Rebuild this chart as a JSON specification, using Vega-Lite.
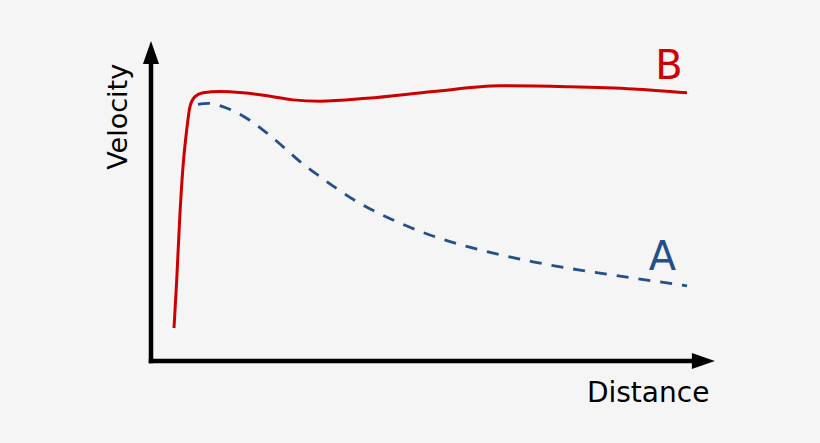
{
  "$schema": "https://vega.github.io/schema/vega-lite/v6.json",
  "width": 564,
  "height": 320,
  "autosize": {"type": "none"},
  "padding": {"left": 151, "top": 41, "right": 105, "bottom": 82},
  "background": "#f5f5f5",
  "config": {"view": {"stroke": null}},
  "datasets": {
    "curves": [
      {"series": "B", "distance": 4.08, "velocity": 10.3},
      {"series": "B", "distance": 4.56, "velocity": 25.3},
      {"series": "B", "distance": 5.14, "velocity": 46.25},
      {"series": "B", "distance": 5.73, "velocity": 61.9},
      {"series": "B", "distance": 6.33, "velocity": 72.2},
      {"series": "B", "distance": 6.91, "velocity": 79.5},
      {"series": "B", "distance": 7.8, "velocity": 82.6},
      {"series": "B", "distance": 9.22, "velocity": 83.8},
      {"series": "B", "distance": 12.23, "velocity": 84.2},
      {"series": "B", "distance": 16.31, "velocity": 83.8},
      {"series": "B", "distance": 20.57, "velocity": 82.9},
      {"series": "B", "distance": 25.18, "velocity": 81.6},
      {"series": "B", "distance": 29.96, "velocity": 81.2},
      {"series": "B", "distance": 38.3, "velocity": 82.1},
      {"series": "B", "distance": 50.0, "velocity": 84.2},
      {"series": "B", "distance": 61.88, "velocity": 86.0},
      {"series": "B", "distance": 73.76, "velocity": 85.7},
      {"series": "B", "distance": 85.46, "velocity": 85.0},
      {"series": "B", "distance": 95.04, "velocity": 83.8},
      {"series": "A", "distance": 8.33, "velocity": 80.2},
      {"series": "A", "distance": 10.11, "velocity": 80.5},
      {"series": "A", "distance": 13.48, "velocity": 79.0},
      {"series": "A", "distance": 17.02, "velocity": 75.8},
      {"series": "A", "distance": 20.57, "velocity": 71.2},
      {"series": "A", "distance": 23.4, "velocity": 67.0},
      {"series": "A", "distance": 26.42, "velocity": 62.3},
      {"series": "A", "distance": 29.96, "velocity": 57.6},
      {"series": "A", "distance": 36.52, "velocity": 49.8},
      {"series": "A", "distance": 43.62, "velocity": 43.5},
      {"series": "A", "distance": 51.24, "velocity": 38.3},
      {"series": "A", "distance": 59.57, "velocity": 34.2},
      {"series": "A", "distance": 67.73, "velocity": 31.0},
      {"series": "A", "distance": 76.06, "velocity": 28.4},
      {"series": "A", "distance": 84.4, "velocity": 26.2},
      {"series": "A", "distance": 95.04, "velocity": 23.5}
    ],
    "axes": [
      {"axis": "x", "x": 0, "y": 0, "x2": 96.2, "y2": 0, "dir": "right"},
      {"axis": "y", "x": 0, "y": 0, "x2": 0, "y2": 93.2, "dir": "up"}
    ],
    "heads": [
      {"axis": "x", "x": 95.9, "y": 0},
      {"axis": "y", "x": 0, "y": 92.8}
    ],
    "labels": [
      {"text": "B", "x": 91.84, "y": 88.0},
      {"text": "A", "x": 90.69, "y": 28.4}
    ],
    "titles": [
      {"text": "Distance", "x": 99.0, "y": -12.9, "kind": "x"},
      {"text": "Velocity", "x": -4.3, "y": 76.3, "kind": "y"}
    ]
  },
  "layer": [
    {
      "data": {"name": "axes"},
      "mark": {"type": "rule", "color": "#000000", "strokeWidth": 4.5, "strokeCap": "square"},
      "encoding": {
        "x": {"field": "x", "type": "quantitative", "scale": {"domain": [0, 100]}, "axis": null},
        "y": {"field": "y", "type": "quantitative", "scale": {"domain": [0, 100]}, "axis": null},
        "x2": {"field": "x2"},
        "y2": {"field": "y2"}
      }
    },
    {
      "data": {"name": "heads"},
      "transform": [{"filter": "datum.axis === 'y'"}],
      "mark": {"type": "point", "shape": "M0,-2L-0.7,0L0.7,0Z", "size": 529, "filled": true, "color": "#000000", "opacity": 1, "strokeWidth": 0},
      "encoding": {
        "x": {"field": "x", "type": "quantitative", "scale": {"domain": [0, 100]}, "axis": null},
        "y": {"field": "y", "type": "quantitative", "scale": {"domain": [0, 100]}, "axis": null}
      }
    },
    {
      "data": {"name": "heads"},
      "transform": [{"filter": "datum.axis === 'x'"}],
      "mark": {"type": "point", "shape": "M2,0L0,-0.7L0,0.7Z", "size": 529, "filled": true, "color": "#000000", "opacity": 1, "strokeWidth": 0},
      "encoding": {
        "x": {"field": "x", "type": "quantitative", "scale": {"domain": [0, 100]}, "axis": null},
        "y": {"field": "y", "type": "quantitative", "scale": {"domain": [0, 100]}, "axis": null}
      }
    },
    {
      "data": {"name": "curves"},
      "transform": [{"filter": "datum.series === 'A'"}],
      "mark": {"type": "line", "color": "#234f8c", "strokeWidth": 2.8, "strokeDash": [12, 10], "interpolate": "monotone"},
      "encoding": {
        "x": {"field": "distance", "type": "quantitative", "scale": {"domain": [0, 100]}, "axis": null},
        "y": {"field": "velocity", "type": "quantitative", "scale": {"domain": [0, 100]}, "axis": null}
      }
    },
    {
      "data": {"name": "curves"},
      "transform": [{"filter": "datum.series === 'B'"}],
      "mark": {"type": "line", "color": "#cc0000", "strokeWidth": 3, "interpolate": "monotone"},
      "encoding": {
        "x": {"field": "distance", "type": "quantitative", "scale": {"domain": [0, 100]}, "axis": null},
        "y": {"field": "velocity", "type": "quantitative", "scale": {"domain": [0, 100]}, "axis": null}
      }
    },
    {
      "data": {"name": "labels"},
      "mark": {"type": "text", "font": "DejaVu Sans", "fontSize": 40, "align": "center", "baseline": "alphabetic"},
      "encoding": {
        "x": {"field": "x", "type": "quantitative", "scale": {"domain": [0, 100]}, "axis": null},
        "y": {"field": "y", "type": "quantitative", "scale": {"domain": [0, 100]}, "axis": null},
        "text": {"field": "text"},
        "color": {"field": "text", "type": "nominal", "scale": {"domain": ["A", "B"], "range": ["#234f8c", "#cc0000"]}, "legend": null}
      }
    },
    {
      "data": {"name": "titles"},
      "transform": [{"filter": "datum.kind === 'x'"}],
      "mark": {"type": "text", "font": "DejaVu Sans", "fontSize": 28, "align": "right", "baseline": "alphabetic", "color": "#000000"},
      "encoding": {
        "x": {"field": "x", "type": "quantitative", "scale": {"domain": [0, 100]}, "axis": null},
        "y": {"field": "y", "type": "quantitative", "scale": {"domain": [0, 100]}, "axis": null},
        "text": {"field": "text"}
      }
    },
    {
      "data": {"name": "titles"},
      "transform": [{"filter": "datum.kind === 'y'"}],
      "mark": {"type": "text", "font": "DejaVu Sans", "fontSize": 27, "align": "center", "baseline": "alphabetic", "angle": 270, "color": "#000000"},
      "encoding": {
        "x": {"field": "x", "type": "quantitative", "scale": {"domain": [0, 100]}, "axis": null},
        "y": {"field": "y", "type": "quantitative", "scale": {"domain": [0, 100]}, "axis": null},
        "text": {"field": "text"}
      }
    }
  ]
}
